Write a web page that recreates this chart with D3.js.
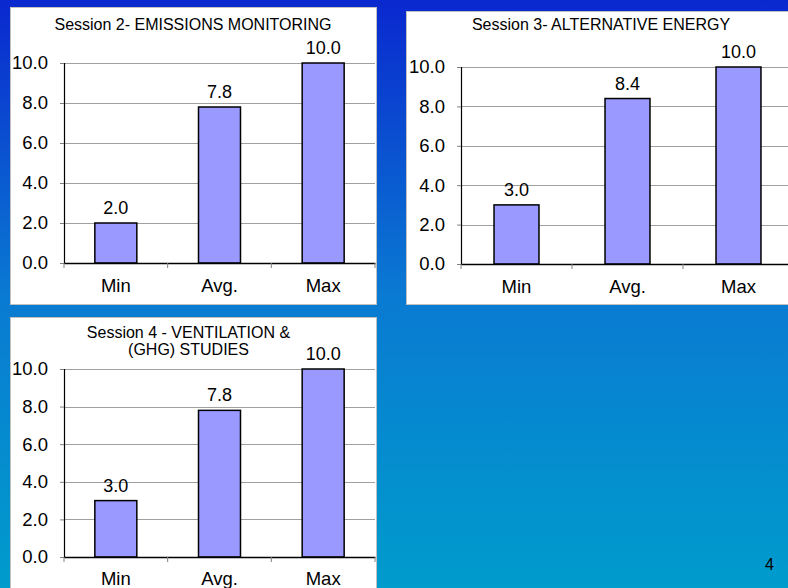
<!DOCTYPE html>
<html><head><meta charset="utf-8">
<script src="https://cdn.jsdelivr.net/npm/d3@7"></script>
<style>html,body{margin:0;padding:0;overflow:hidden;}svg{display:block;}</style>
</head><body>
<svg id="c" width="788" height="588"></svg>
<script>
const categories = ["Min", "Avg.", "Max"];
const session2Values = [2.0, 7.8, 10.0];
const session3Values = [3.0, 8.4, 10.0];
const session4Values = [3.0, 7.8, 10.0];
const yTickValues = [0, 2, 4, 6, 8, 10];
const session2Title = ["Session 2- EMISSIONS MONITORING"];
const session3Title = ["Session 3- ALTERNATIVE ENERGY"];
const session4Title = ["Session 4 - VENTILATION &", "(GHG) STUDIES"];
const pageNumber = "4";

const svg = d3.select("#c");
const defs = svg.append("defs");
const grad = defs.append("linearGradient").attr("id","bg").attr("x1",0).attr("y1",0).attr("x2",0).attr("y2",1);
grad.append("stop").attr("offset","0").attr("stop-color","#0a28cf");
grad.append("stop").attr("offset","0.5").attr("stop-color","#0a7ad2");
grad.append("stop").attr("offset","1").attr("stop-color","#009ccc");
svg.append("rect").attr("width",788).attr("height",588).attr("fill","url(#bg)");

const FONT = "'Liberation Sans', Arial, sans-serif";

function panel(cfg) {
  const g = svg.append("g");
  g.append("rect").attr("x",cfg.box[0]+0.5).attr("y",cfg.box[1]+0.5)
    .attr("width",cfg.box[2]).attr("height",cfg.box[3])
    .attr("fill","#fff").attr("stroke","#c0c0c0").attr("stroke-width",1);
  const x = d3.scaleBand().domain(categories).range([cfg.left, cfg.right]).padding(0);
  const y = d3.scaleLinear().domain([0,10]).range([cfg.bottom, cfg.top]);
  // gridlines
  g.selectAll("line.grid").data(yTickValues.filter(d=>d>0)).enter().append("line")
    .attr("x1",cfg.left).attr("x2",cfg.right)
    .attr("y1",d=>Math.round(y(d))+0.5).attr("y2",d=>Math.round(y(d))+0.5)
    .attr("stroke","#a0a0a0").attr("stroke-width",1);
  // y axis
  const ya = g.append("g").attr("transform",`translate(${cfg.left},0)`)
    .call(d3.axisLeft(y).tickValues(yTickValues).tickFormat(d3.format(".1f")).tickSize(4).tickPadding(12));
  ya.select(".domain").attr("stroke","#000").attr("stroke-width",1.2);
  ya.selectAll(".tick line").attr("stroke","#808080");
  ya.selectAll(".tick text").attr("font-family",FONT).attr("font-size",18.5).attr("fill","#000");
  // bars
  const bw = x.bandwidth()*0.405;
  g.selectAll("rect.bar").data(cfg.values).enter().append("rect")
    .attr("x",(d,i)=>x(categories[i]) + (x.bandwidth()-bw)/2)
    .attr("y",d=>y(d)).attr("width",bw).attr("height",d=>y(0)-y(d))
    .attr("fill","#9999ff").attr("stroke","#000").attr("stroke-width",1.5);
  // x axis
  const xa = g.append("g").attr("transform",`translate(0,${cfg.bottom})`)
    .call(d3.axisBottom(x).tickSize(0).tickPadding(14));
  xa.select(".domain").attr("stroke","#000").attr("stroke-width",1.5);
  xa.selectAll(".tick text").attr("font-family",FONT).attr("font-size",18.5).attr("fill","#000")
    .attr("dy", "0.71em").attr("y", cfg.catY);
  // category separator ticks
  const seps = categories.map(c=>x(c)).concat([cfg.right]);
  g.selectAll("line.sep").data(seps).enter().append("line")
    .attr("x1",d=>d).attr("x2",d=>d).attr("y1",cfg.bottom).attr("y2",cfg.bottom+5)
    .attr("stroke","#808080").attr("stroke-width",1);
  // value labels
  g.selectAll("text.val").data(cfg.values).enter().append("text")
    .attr("x",(d,i)=>x(categories[i])+x.bandwidth()/2).attr("y",d=>y(d)-9)
    .attr("text-anchor","middle").attr("font-family",FONT).attr("font-size",18).attr("fill","#000")
    .text(d=>d3.format(".1f")(d));
  // title
  g.selectAll("text.title").data(cfg.title).enter().append("text")
    .attr("x",cfg.titleX).attr("y",(d,i)=>cfg.titleY + i*17)
    .attr("text-anchor","middle").attr("font-family",FONT).attr("font-size",16).attr("fill","#000")
    .text(d=>d);
}

panel({box:[10,7,366,297], left:64, right:375, top:63, bottom:263, values:session2Values,
  title:session2Title, titleX:193, titleY:29.5, catY:15.5});
panel({box:[406,11,400,293], left:461, right:794, top:67, bottom:264, values:session3Values,
  title:session3Title, titleX:601, titleY:29.5, catY:16});
panel({box:[10,317,366,300], left:64, right:375, top:369, bottom:557, values:session4Values,
  title:session4Title, titleX:188.5, titleY:338, catY:14.5});

svg.append("text").attr("x",769.5).attr("y",569.5).attr("text-anchor","middle")
  .attr("font-family",FONT).attr("font-size",16).attr("fill","#000").text(pageNumber);
</script>
</body></html>
